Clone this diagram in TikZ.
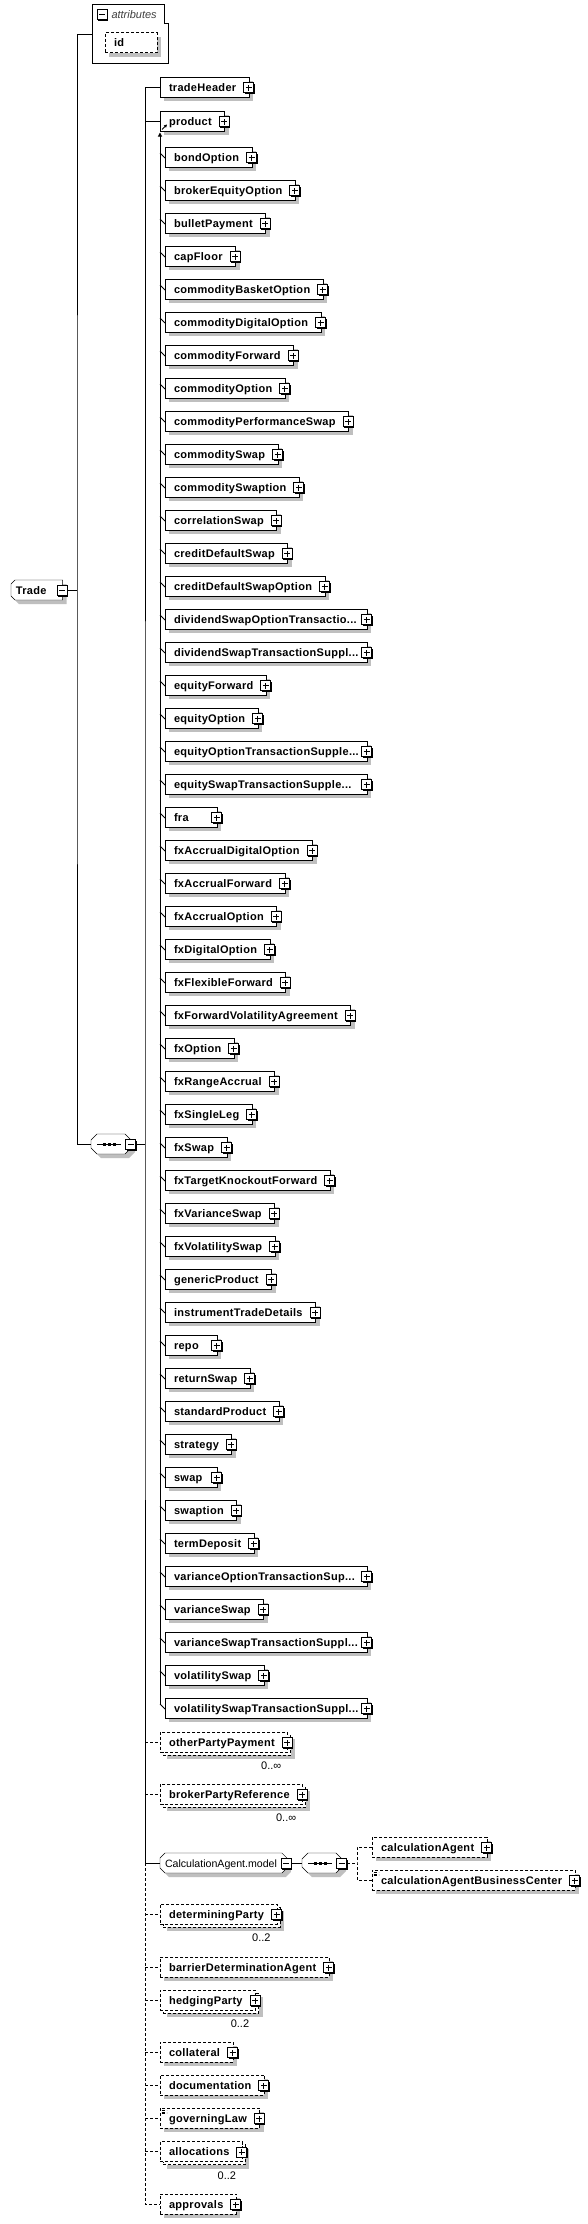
\documentclass[tikz,border=0pt]{standalone}
\usepackage{fontspec}
\setmainfont{Liberation Sans}
\newfontfamily\xsdfont[LetterSpace=2.75]{Liberation Sans}
\usetikzlibrary{arrows.meta, positioning, shadows, backgrounds}
\tikzset{
    base/.style={font=\xsdfont\bfseries\fontsize{11}{13}\selectfont, text height=8pt, text depth=0pt, minimum height=20pt, inner ysep=0pt, inner xsep=9pt, outer sep=0pt, anchor=west},
    boxshadow/.style={drop shadow={shadow xshift=#1, shadow yshift=-#1, fill=black!25, opacity=1, draw=none}},
    optional/.style={dash pattern=on 3pt off 2pt},
    togglebox/.style={rectangle, draw=black, fill=white, minimum size=10pt, inner sep=0pt, anchor=center, xshift=-0.5pt, yshift=-0.5pt, drop shadow={shadow xshift=1pt, shadow yshift=-1pt, fill=black, opacity=1, draw=none}},
    plusmark/.style={togglebox, path picture={\draw ([xshift=-3pt]path picture bounding box.center) -- ([xshift=3pt]path picture bounding box.center) ([yshift=-3pt]path picture bounding box.center) -- ([yshift=3pt]path picture bounding box.center);}},
    minusmark/.style={togglebox, path picture={\draw ([xshift=-3pt]path picture bounding box.center) -- ([xshift=3pt]path picture bounding box.center);}},
    box/.style={base, rectangle, draw=black, fill=white, minimum width=52pt},
    elem/.style={box, execute at end node={\hspace{4pt}}, boxshadow=4pt, label={[plusmark]east:}},
    optelem/.style={elem, optional},
    multi/.style={box, optional, execute at end node={\hspace{4pt}}, boxshadow=7pt, copy shadow={shadow xshift=3pt, shadow yshift=-3pt}, label={[plusmark]east:}},
    membertick/.style={append after command={([xshift=-5pt,yshift=4pt]\tikzlastnode.west) edge ([yshift=-1pt]\tikzlastnode.west)}},
    member/.style={elem, membertick},
    trunc/.style={box, boxshadow=4pt, membertick, label={[plusmark]east:}, text width=184pt, align=left, execute at begin node={\hyphenpenalty=10000 }},
    short/.style={text width=34pt, align=left},
    stackbelow/.style={below=13pt of #1.south west, anchor=north west},
    simple/.style={path picture={\draw[line width=0.6pt] ([xshift=1.5pt,yshift=-2.5pt]path picture bounding box.north west) -- ++(5pt,0pt) ([xshift=1.5pt,yshift=-4pt]path picture bounding box.north west) -- ++(5pt,0pt) ([xshift=1.5pt,yshift=-5.5pt]path picture bounding box.north west) -- ++(5pt,0pt);}},
    rootelem/.style={base, rectangle, inner xsep=5pt, execute at end node={\hspace{11pt}}, label={[minusmark]east:}},
    modelgroup/.style={base, font=\fontsize{10.6}{12}\selectfont, rectangle, inner xsep=5pt, execute at end node={\hspace{5pt}}, label={[minusmark]east:}},
    compositor/.style={rectangle, minimum width=40pt, minimum height=20pt, inner sep=0pt, outer sep=0pt, anchor=west, label={[minusmark]east:}},
    outline/.style={draw=black, fill=white, boxshadow=4pt},
    mult/.style={font=\fontsize{11}{13}\selectfont, inner sep=0pt, text height=8pt, text depth=0pt, anchor=east},
    attrtitle/.style={font=\fontsize{11}{13}\selectfont\itshape, text=black!75, inner sep=0pt, anchor=west}
}

\begin{document}
\begin{tikzpicture}[x=1pt, y=-1pt, line width=1pt]
    \path[use as bounding box] (0,0) rectangle (587,2224);

    % attributes of Trade
    \draw (92,5) -- (164,5) -- (164,24) -- (168,24) -- (168,64) -- (92,64) -- cycle;
    \node[minusmark] (attrToggle) at (102.5,14.5) {};
    \node[attrtitle] (attrTitle) at (111,15) {attributes};
    \node[box, optional, short, boxshadow=4pt] (id) at (105,43) {id};
    \coordinate (attrIn) at (92,35);

    % the element and its sequence
    \node[rootelem] (Trade) at (11,590) {Trade};
    \coordinate (trunk) at (77,590);
    \draw ([xshift=5pt]Trade.east) -- (trunk);
    \node[compositor] (seqA) at (91,1144) {};
    \draw (attrIn) -| (trunk) |- (seqA.west);
    \coordinate (spine) at (145,1144);
    \draw ([xshift=5pt]seqA.east) -- (spine);

    \node[elem] (tradeHeader) at (160,87) {tradeHeader};
    \node[elem] (product) at (160,121) {product};
    \draw[-{Triangle[length=3pt,width=3pt]}] ([xshift=2pt,yshift=1.5pt]product.south west) -- ++(5pt,5pt);

    % substitution group of product
    \node[member] (bondOption) at (165,157) {bondOption};
    \node[member, stackbelow=bondOption] (brokerEquityOption) {brokerEquityOption};
    \node[member, stackbelow=brokerEquityOption] (bulletPayment) {bulletPayment};
    \node[member, stackbelow=bulletPayment] (capFloor) {capFloor};
    \node[member, stackbelow=capFloor] (commodityBasketOption) {commodityBasketOption};
    \node[member, stackbelow=commodityBasketOption] (commodityDigitalOption) {commodityDigitalOption};
    \node[member, stackbelow=commodityDigitalOption] (commodityForward) {commodityForward};
    \node[member, stackbelow=commodityForward] (commodityOption) {commodityOption};
    \node[member, stackbelow=commodityOption] (commodityPerformanceSwap) {commodityPerformanceSwap};
    \node[member, stackbelow=commodityPerformanceSwap] (commoditySwap) {commoditySwap};
    \node[member, stackbelow=commoditySwap] (commoditySwaption) {commoditySwaption};
    \node[member, stackbelow=commoditySwaption] (correlationSwap) {correlationSwap};
    \node[member, stackbelow=correlationSwap] (creditDefaultSwap) {creditDefaultSwap};
    \node[member, stackbelow=creditDefaultSwap] (creditDefaultSwapOption) {creditDefaultSwapOption};
    \node[trunc, stackbelow=creditDefaultSwapOption] (dividendSwapOptionTransactionSupplement) {dividendSwapOptionTransactio...};
    \node[trunc, stackbelow=dividendSwapOptionTransactionSupplement] (dividendSwapTransactionSupplement) {dividendSwapTransactionSuppl...};
    \node[member, stackbelow=dividendSwapTransactionSupplement] (equityForward) {equityForward};
    \node[member, stackbelow=equityForward] (equityOption) {equityOption};
    \node[trunc, stackbelow=equityOption] (equityOptionTransactionSupplement) {equityOptionTransactionSupple...};
    \node[trunc, stackbelow=equityOptionTransactionSupplement] (equitySwapTransactionSupplement) {equitySwapTransactionSupple...};
    \node[member, short, stackbelow=equitySwapTransactionSupplement] (fra) {fra};
    \node[member, stackbelow=fra] (fxAccrualDigitalOption) {fxAccrualDigitalOption};
    \node[member, stackbelow=fxAccrualDigitalOption] (fxAccrualForward) {fxAccrualForward};
    \node[member, stackbelow=fxAccrualForward] (fxAccrualOption) {fxAccrualOption};
    \node[member, stackbelow=fxAccrualOption] (fxDigitalOption) {fxDigitalOption};
    \node[member, stackbelow=fxDigitalOption] (fxFlexibleForward) {fxFlexibleForward};
    \node[member, stackbelow=fxFlexibleForward] (fxForwardVolatilityAgreement) {fxForwardVolatilityAgreement};
    \node[member, stackbelow=fxForwardVolatilityAgreement] (fxOption) {fxOption};
    \node[member, stackbelow=fxOption] (fxRangeAccrual) {fxRangeAccrual};
    \node[member, stackbelow=fxRangeAccrual] (fxSingleLeg) {fxSingleLeg};
    \node[member, stackbelow=fxSingleLeg] (fxSwap) {fxSwap};
    \node[member, stackbelow=fxSwap] (fxTargetKnockoutForward) {fxTargetKnockoutForward};
    \node[member, stackbelow=fxTargetKnockoutForward] (fxVarianceSwap) {fxVarianceSwap};
    \node[member, stackbelow=fxVarianceSwap] (fxVolatilitySwap) {fxVolatilitySwap};
    \node[member, stackbelow=fxVolatilitySwap] (genericProduct) {genericProduct};
    \node[member, stackbelow=genericProduct] (instrumentTradeDetails) {instrumentTradeDetails};
    \node[member, short, stackbelow=instrumentTradeDetails] (repo) {repo};
    \node[member, stackbelow=repo] (returnSwap) {returnSwap};
    \node[member, stackbelow=returnSwap] (standardProduct) {standardProduct};
    \node[member, stackbelow=standardProduct] (strategy) {strategy};
    \node[member, short, stackbelow=strategy] (swap) {swap};
    \node[member, stackbelow=swap] (swaption) {swaption};
    \node[member, stackbelow=swaption] (termDeposit) {termDeposit};
    \node[trunc, stackbelow=termDeposit] (varianceOptionTransactionSupplement) {varianceOptionTransactionSup...};
    \node[member, stackbelow=varianceOptionTransactionSupplement] (varianceSwap) {varianceSwap};
    \node[trunc, stackbelow=varianceSwap] (varianceSwapTransactionSupplement) {varianceSwapTransactionSuppl...};
    \node[member, stackbelow=varianceSwapTransactionSupplement] (volatilitySwap) {volatilitySwap};
    \node[trunc, stackbelow=volatilitySwap] (volatilitySwapTransactionSupplement) {volatilitySwapTransactionSuppl...};
    \draw[-{Triangle[length=4pt,width=4pt]}] ([xshift=-5pt,yshift=4pt]volatilitySwapTransactionSupplement.west) -- ([yshift=-1.5pt]product.south west);

    % rest of the sequence
    \node[multi] (otherPartyPayment) at (160,1742) {otherPartyPayment};
    \node[mult] (otherPartyPaymentOcc) at ([xshift=-6pt,yshift=-13.5pt]otherPartyPayment.south east) {0..∞};
    \node[multi] (brokerPartyReference) at (160,1794) {brokerPartyReference};
    \node[mult] (brokerPartyReferenceOcc) at ([xshift=-6pt,yshift=-13.5pt]brokerPartyReference.south east) {0..∞};
    \node[modelgroup] (CalcModel) at (160,1863) {CalculationAgent.model};
    \node[compositor] (seqB) at (302,1863) {};
    \node[optelem] (calculationAgent) at (372,1847) {calculationAgent};
    \node[optelem, simple] (calculationAgentBusinessCenter) at (372,1880) {calculationAgentBusinessCenter};
    \node[multi] (determiningParty) at (160,1914) {determiningParty};
    \node[mult] (determiningPartyOcc) at ([xshift=-6pt,yshift=-13.5pt]determiningParty.south east) {0..2};
    \node[optelem] (barrierDeterminationAgent) at (160,1967) {barrierDeterminationAgent};
    \node[multi] (hedgingParty) at (160,2000) {hedgingParty};
    \node[mult] (hedgingPartyOcc) at ([xshift=-6pt,yshift=-13.5pt]hedgingParty.south east) {0..2};
    \node[optelem] (collateral) at (160,2052) {collateral};
    \node[optelem] (documentation) at (160,2085) {documentation};
    \node[optelem, simple] (governingLaw) at (160,2118) {governingLaw};
    \node[multi] (allocations) at (160,2151.5) {allocations};
    \node[mult] (allocationsOcc) at ([xshift=-6pt,yshift=-13.5pt]allocations.south east) {0..2};
    \node[optelem] (approvals) at (160,2204) {approvals};

    % connectors of the sequence
    \draw (tradeHeader.west) -| (spine) |- (CalcModel.west);
    \draw (product.west) -- (product.west -| spine);
    \draw[optional] (otherPartyPayment.west -| spine) -- (otherPartyPayment.west);
    \draw[optional] (brokerPartyReference.west -| spine) -- (brokerPartyReference.west);
    \draw[optional] (CalcModel.west -| spine) |- (approvals.west);
    \draw[optional] (determiningParty.west -| spine) -- (determiningParty.west);
    \draw[optional] (barrierDeterminationAgent.west -| spine) -- (barrierDeterminationAgent.west);
    \draw[optional] (hedgingParty.west -| spine) -- (hedgingParty.west);
    \draw[optional] (collateral.west -| spine) -- (collateral.west);
    \draw[optional] (documentation.west -| spine) -- (documentation.west);
    \draw[optional] (governingLaw.west -| spine) -- (governingLaw.west);
    \draw[optional] (allocations.west -| spine) -- (allocations.west);

    % calculation agent group
    \draw ([xshift=5pt]CalcModel.east) -- (seqB.west);
    \coordinate (branch) at (357,1863);
    \draw[optional] ([xshift=5pt]seqB.east) -- (branch);
    \draw[optional] (calculationAgent.west) -| (branch) |- (calculationAgentBusinessCenter.west);

    % sequence symbols
    \draw ([xshift=-14pt]seqA.center) -- ([xshift=10pt]seqA.center);
    \fill ([xshift=-8.5pt,yshift=1.5pt]seqA.center) rectangle ++(3pt,-3pt);
    \fill ([xshift=-3.5pt,yshift=1.5pt]seqA.center) rectangle ++(3pt,-3pt);
    \fill ([xshift=1.5pt,yshift=1.5pt]seqA.center) rectangle ++(3pt,-3pt);
    \draw ([xshift=-14pt]seqB.center) -- ([xshift=10pt]seqB.center);
    \fill ([xshift=-8.5pt,yshift=1.5pt]seqB.center) rectangle ++(3pt,-3pt);
    \fill ([xshift=-3.5pt,yshift=1.5pt]seqB.center) rectangle ++(3pt,-3pt);
    \fill ([xshift=1.5pt,yshift=1.5pt]seqB.center) rectangle ++(3pt,-3pt);

    % cut-corner outlines behind the text
    \begin{scope}[on background layer]
        \fill[white] (0,0) rectangle (587,2224);
        \draw[outline] ([xshift=4pt]Trade.north west) -- (Trade.north east) -- (Trade.south east) -- ([xshift=4pt]Trade.south west) -- ([yshift=4pt]Trade.south west) -- ([yshift=-4pt]Trade.north west) -- cycle;
        \draw[outline] ([xshift=5pt]CalcModel.north west) -- ([xshift=-5pt]CalcModel.north east) -- ([yshift=-5pt]CalcModel.north east) -- ([yshift=5pt]CalcModel.south east) -- ([xshift=-5pt]CalcModel.south east) -- ([xshift=5pt]CalcModel.south west) -- ([yshift=5pt]CalcModel.south west) -- ([yshift=-5pt]CalcModel.north west) -- cycle;
        \draw[outline] ([xshift=6pt]seqA.north west) -- ([xshift=-6pt]seqA.north east) -- ([yshift=-6pt]seqA.north east) -- ([yshift=6pt]seqA.south east) -- ([xshift=-6pt]seqA.south east) -- ([xshift=6pt]seqA.south west) -- ([yshift=6pt]seqA.south west) -- ([yshift=-6pt]seqA.north west) -- cycle;
        \draw[outline] ([xshift=6pt]seqB.north west) -- ([xshift=-6pt]seqB.north east) -- ([yshift=-6pt]seqB.north east) -- ([yshift=6pt]seqB.south east) -- ([xshift=-6pt]seqB.south east) -- ([xshift=6pt]seqB.south west) -- ([yshift=6pt]seqB.south west) -- ([yshift=-6pt]seqB.north west) -- cycle;
    \end{scope}
\end{tikzpicture}
\end{document}
